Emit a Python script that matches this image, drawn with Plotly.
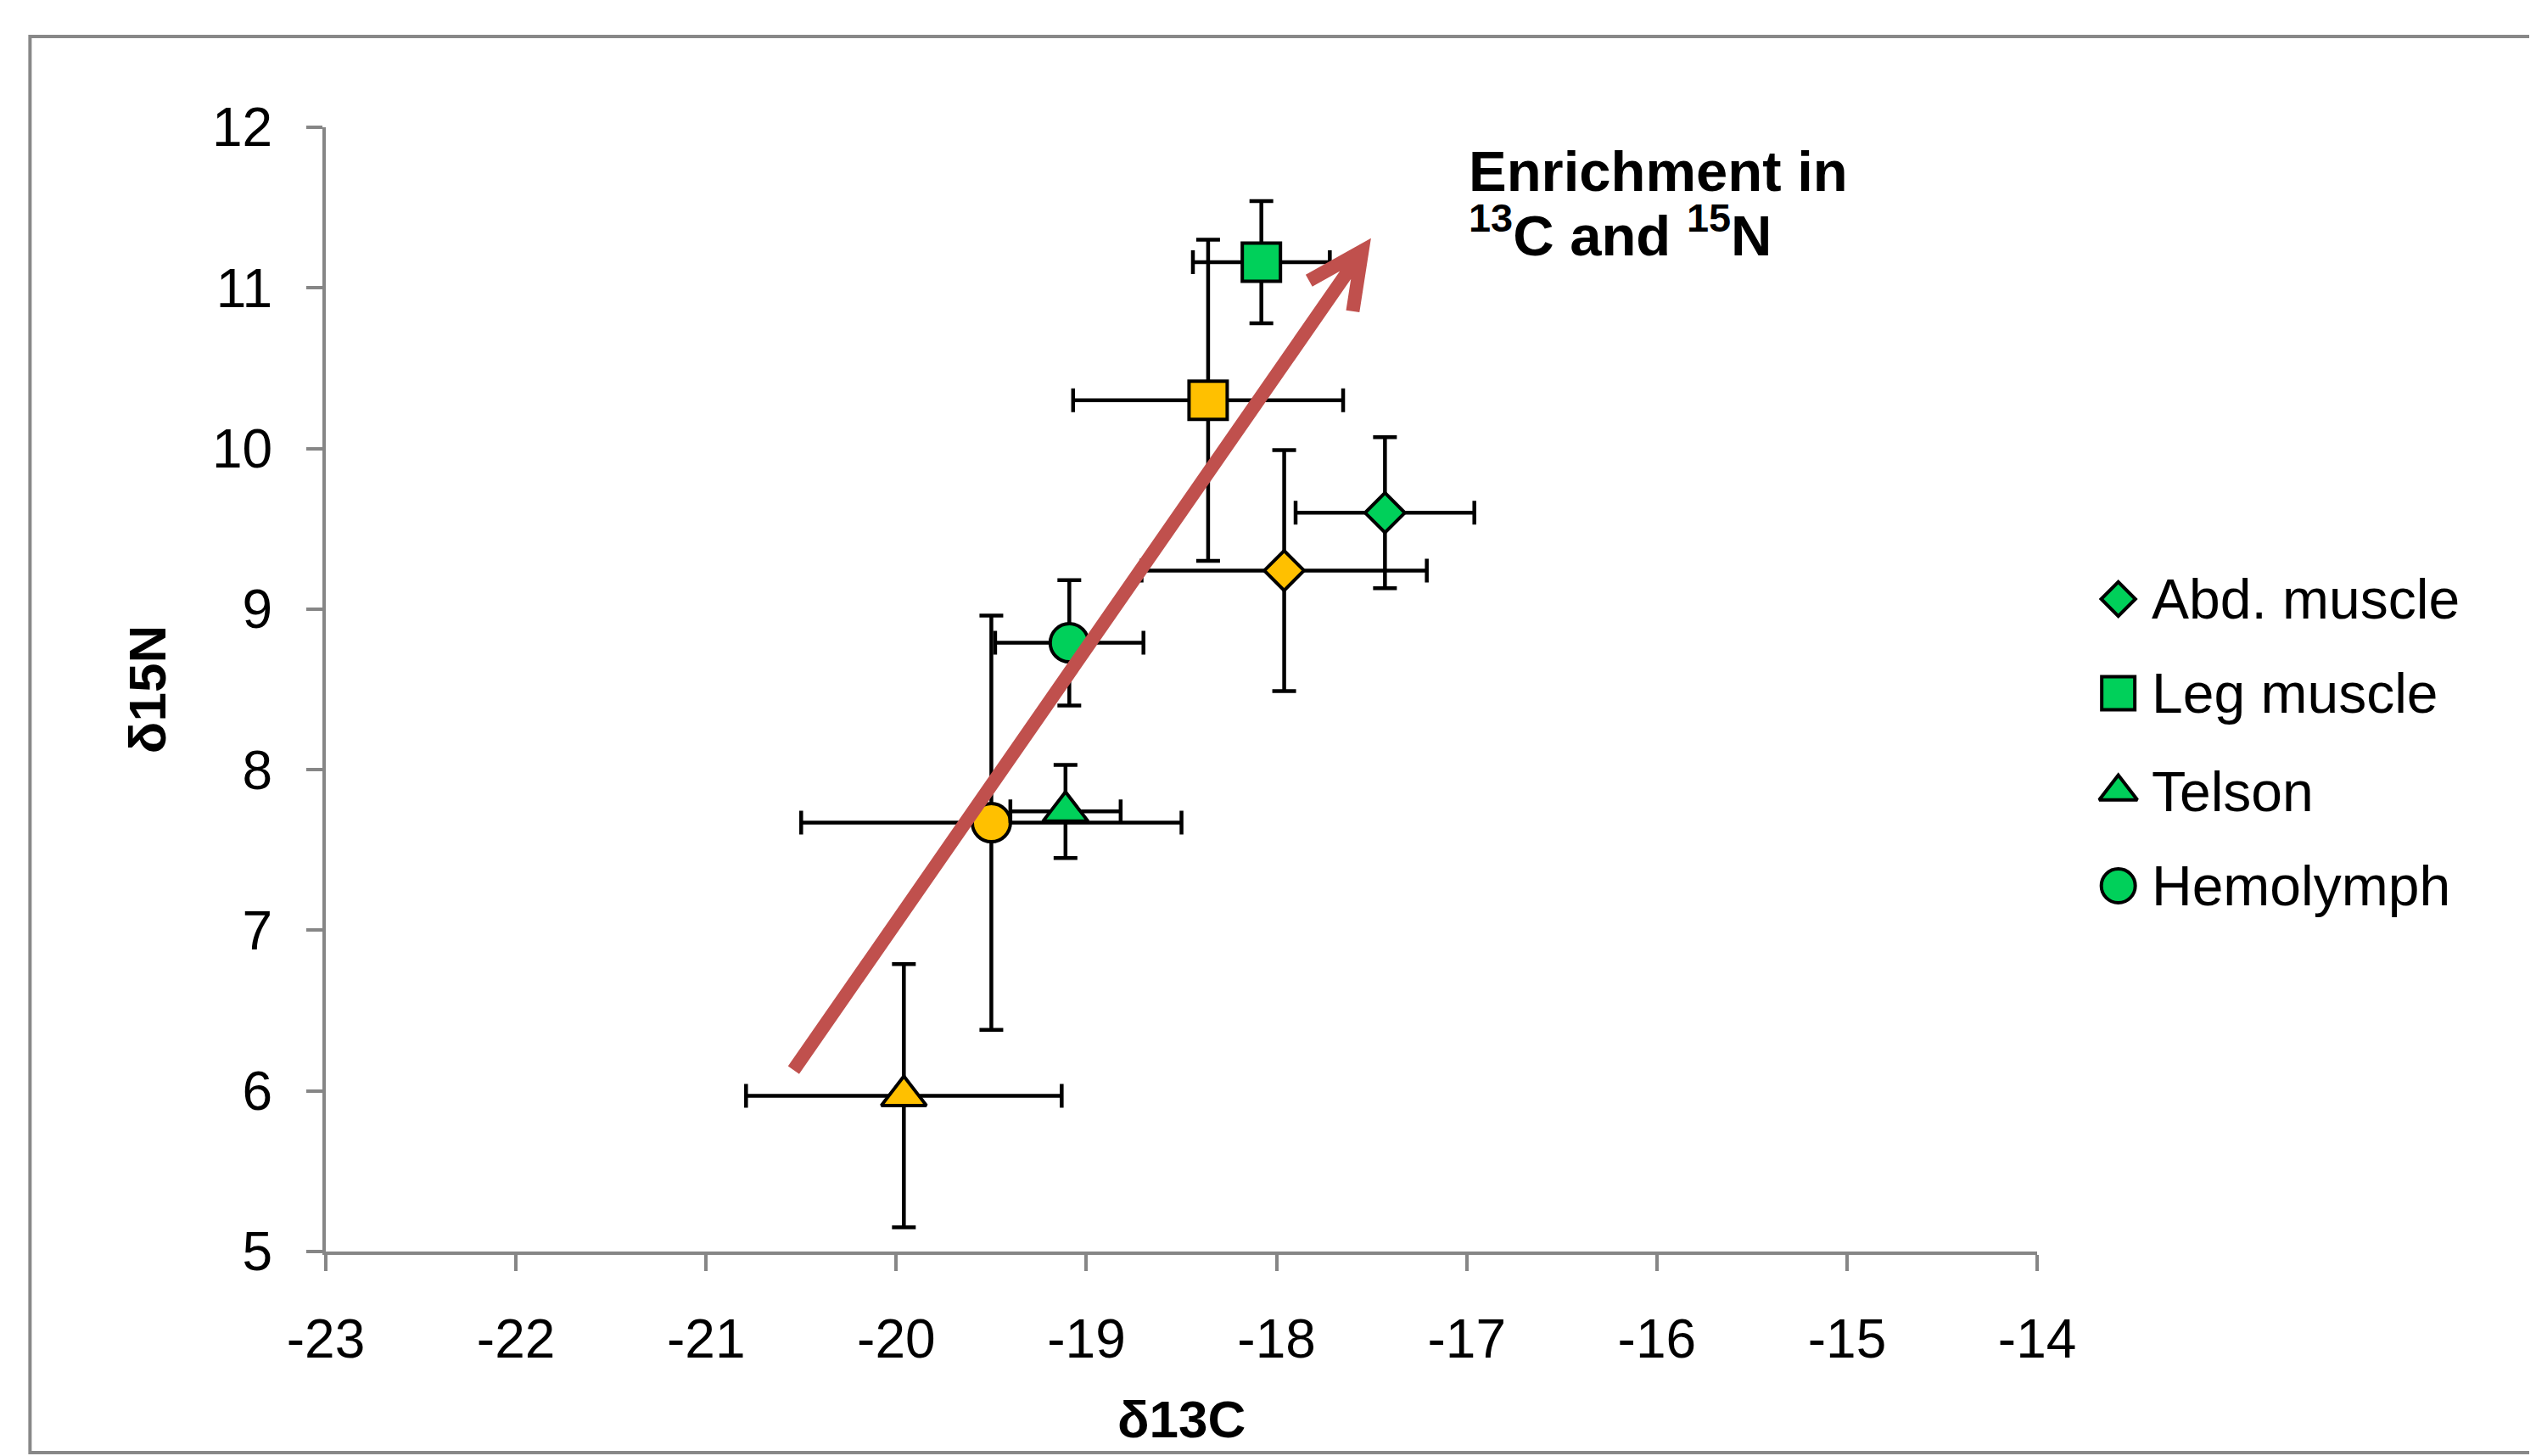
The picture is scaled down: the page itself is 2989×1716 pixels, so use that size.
import math
import plotly.graph_objects as go

# ---------------- data ----------------
tissues = ["Abd. muscle", "Leg muscle", "Telson", "Hemolymph"]
symbols = ["diamond", "square", "triangle-up", "circle"]

# green series (shown in legend)
green_x = [-17.43, -18.08, -19.11, -19.09]
green_y = [9.60, 11.16, 7.74, 8.79]
green_xerr = [0.47, 0.36, 0.29, 0.39]
green_yerr = [0.47, 0.38, 0.29, 0.39]

# yellow series
yellow_x = [-17.96, -18.36, -19.96, -19.50]
yellow_y = [9.24, 10.30, 5.97, 7.67]
yellow_xerr = [0.75, 0.71, 0.83, 1.00]
yellow_yerr = [0.75, 1.00, 0.82, 1.29]

x_range = [-23, -14]
y_range = [5, 12]
x_ticks = list(range(-23, -13))
x_ticklabels = [str(v) for v in x_ticks]   # plain hyphen minus
y_ticks = list(range(5, 13))
y_ticklabels = [str(v) for v in y_ticks]

# enrichment arrow (tail -> head vertex), data coordinates
arrow_tail = (-20.54, 6.13)
arrow_head = (-17.55, 11.23)

# ---------------- style / layout ----------------
GREEN = "#00D05A"
YELLOW = "#FFC000"
ARROW = "#C0504D"
AXIS = "#868686"
FONT = "Liberation Sans, Arial, sans-serif"
data_sizes = {"diamond": 36, "square": 45, "triangle-up": 46, "circle": 45}
legend_sizes = {"diamond": 31, "square": 39, "triangle-up": 39, "circle": 40}

W, H = 2989, 1716
M_L, M_R, M_T, M_B = 376, 48, 142, 249
X_DOMAIN = [0, 0.78947]
plot_w = (W - M_L - M_R) * (X_DOMAIN[1] - X_DOMAIN[0])
plot_h = H - M_T - M_B
px_per_x = plot_w / (x_range[1] - x_range[0])
px_per_y = plot_h / (y_range[1] - y_range[0])

fig = go.Figure()


def add_series(xs, ys, xe, ye, color):
    for i, sym in enumerate(symbols):
        fig.add_trace(go.Scatter(
            x=[xs[i]], y=[ys[i]], mode="markers", name=tissues[i],
            showlegend=False,
            marker=dict(symbol=sym, size=data_sizes[sym], color=color,
                        opacity=1, line=dict(color="black", width=4)),
            error_x=dict(type="data", array=[xe[i]], color="black",
                         thickness=4.5, width=14),
            error_y=dict(type="data", array=[ye[i]], color="black",
                         thickness=4.5, width=14),
            cliponaxis=False,
        ))


add_series(yellow_x, yellow_y, yellow_xerr, yellow_yerr, YELLOW)
add_series(green_x, green_y, green_xerr, green_yerr, GREEN)

# ---------------- manual legend (large markers) ----------------
legend_x = 0.1756          # in legend axis units
legend_y = [0.5804, 0.4966, 0.4091, 0.3253]
legend_text_x = 0.8413     # paper
fig.add_trace(go.Scatter(
    x=[legend_x] * len(tissues), y=legend_y, xaxis="x2", yaxis="y2",
    mode="markers", showlegend=False, hoverinfo="skip",
    marker=dict(symbol=symbols, size=[legend_sizes[s] for s in symbols],
                color=GREEN, opacity=1, line=dict(color="black", width=4)),
))

annotations = []
for name, yy in zip(tissues, legend_y):
    annotations.append(dict(
        text=name, x=legend_text_x, y=yy, xref="paper", yref="paper",
        xanchor="left", yanchor="middle", showarrow=False,
        font=dict(size=66, family=FONT, color="black"),
    ))

# enrichment label
annotations.append(dict(
    text="<b>Enrichment in</b>", x=-17.0, y=11.73, xref="x", yref="y",
    xanchor="left", yanchor="middle", showarrow=False,
    font=dict(size=67, family=FONT, color="black"),
))
annotations.append(dict(
    text="<b><sup>13</sup>C and <sup>15</sup>N</b>", x=-17.0, y=11.35,
    xref="x", yref="y", xanchor="left", yanchor="middle", showarrow=False,
    font=dict(size=67, family=FONT, color="black"),
))

# ---------------- arrow as an open "V" head path ----------------
ARM_LEN = 72.0              # px
ARM_HALF_ANGLE = math.radians(26)
# direction tail->head in pixel space (y down)
dx = (arrow_head[0] - arrow_tail[0]) * px_per_x
dy = -(arrow_head[1] - arrow_tail[1]) * px_per_y
n = math.hypot(dx, dy)
bx, by = -dx / n, -dy / n   # backwards unit vector


def arm(sign):
    c, s = math.cos(sign * ARM_HALF_ANGLE), math.sin(sign * ARM_HALF_ANGLE)
    rx, ry = c * bx - s * by, s * bx + c * by
    return (arrow_head[0] + rx * ARM_LEN / px_per_x,
            arrow_head[1] - ry * ARM_LEN / px_per_y)


a1, a2 = arm(1), arm(-1)
arrow_path = (f"M{arrow_tail[0]},{arrow_tail[1]} L{arrow_head[0]},{arrow_head[1]} "
              f"M{a1[0]},{a1[1]} L{arrow_head[0]},{arrow_head[1]} L{a2[0]},{a2[1]}")

shapes = [
    dict(type="rect", xref="paper", yref="paper",
         x0=-0.13645, x1=1.03, y0=-0.17887, y1=1.08075,
         line=dict(color="#888888", width=4), layer="below"),
    dict(type="path", xref="x", yref="y", path=arrow_path,
         line=dict(color=ARROW, width=16), layer="above"),
]

axis_common = dict(
    showgrid=False, zeroline=False, showline=True, linecolor=AXIS,
    linewidth=4, ticks="outside", ticklen=19, tickwidth=4, tickcolor=AXIS,
    tickfont=dict(size=64, family=FONT, color="black"),
)

fig.update_layout(
    width=W, height=H,
    margin=dict(l=M_L, r=M_R, t=M_T, b=M_B),
    paper_bgcolor="white", plot_bgcolor="white",
    showlegend=False,
    font=dict(family=FONT, size=64, color="black"),
    xaxis=dict(domain=X_DOMAIN, range=x_range, tickvals=x_ticks,
               ticktext=x_ticklabels, ticklabelstandoff=25,
               title=dict(text="<b>δ13C</b>", font=dict(size=62, family=FONT),
                          standoff=39),
               **axis_common),
    yaxis=dict(range=y_range, tickvals=y_ticks, ticktext=y_ticklabels,
               ticklabelstandoff=27,
               title=dict(text="<b>δ15N</b>", font=dict(size=62, family=FONT),
                          standoff=35),
               **axis_common),
    xaxis2=dict(domain=[0.79, 1.0], range=[0, 1], visible=False,
                anchor="y2", fixedrange=True),
    yaxis2=dict(domain=[0, 1], range=[0, 1], visible=False,
                anchor="x2", fixedrange=True),
    annotations=annotations,
    shapes=shapes,
)

fig.write_html("out.html")
